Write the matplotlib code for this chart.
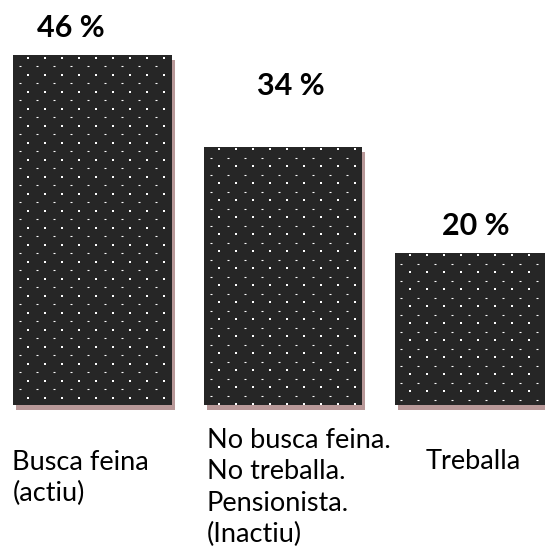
import matplotlib
matplotlib.use('Agg')
import numpy as np
import matplotlib.pyplot as plt
import matplotlib.patheffects as pe
from matplotlib.transforms import IdentityTransform

# dades
categories = ['Busca feina\n(actiu)',
              'No busca feina.\nNo treballa.\nPensionista.\n(Inactiu)',
              'Treballa']
values = [46, 34, 20]
value_labels = ['46 %', '34 %', '20 %']

plt.rcParams['font.family'] = ['Lato', 'DejaVu Sans']

fig = plt.figure(figsize=(5.45, 5.56), dpi=100)
ax = fig.add_axes([0, 0, 1, 1])
ax.set_xlim(-0.485, 2.372)
ax.set_ylim(-19.9, 53.3)
ax.axis('off')

x = list(range(len(values)))
bars = ax.bar(x, values, width=0.83, color='#262626', linewidth=0)
for b in bars:
    b.set_path_effects([
        pe.SimplePatchShadow(offset=(2.2, -3.6), shadow_rgbFace='#b89898', alpha=1.0),
        pe.Normal(),
    ])

# trama de punts blancs (en píxels), retallada a cada barra
step = 17.0
for b in bars:
    (px0, py0), (px1, py1) = ax.transData.transform(
        [(b.get_x(), 0), (b.get_x() + b.get_width(), b.get_height())])
    xs_d = np.arange(px0 + 15, px1, step)
    xs_s = np.arange(px0 + 6.5, px1, step)
    ys_d = np.arange(py1 - 2.5, py0, -step)
    ys_s = np.arange(py1 - 11, py0, -step)
    gx, gy = np.meshgrid(xs_d, ys_d)
    ax.scatter(gx.ravel(), gy.ravel(), s=2.2, marker='s', color='white',
               linewidths=0, transform=IdentityTransform(), clip_path=b, zorder=3)
    hx, hy = np.meshgrid(xs_s, ys_s)
    ax.scatter(hx.ravel(), hy.ravel(), s=3.5, marker='_', color='white',
               linewidths=0.8, transform=IdentityTransform(), clip_path=b, zorder=3)

# etiquetes de valor
label_dx = [-0.115, 0.04, 0.01]
label_dy = [3.6, 8.0, 3.6]
for xi, v, lab, dx, dy in zip(x, values, value_labels, label_dx, label_dy):
    ax.text(xi + dx, v + dy, lab, ha='center', va='center',
            fontsize=22, fontweight='bold', color='black')

# etiquetes de categoria
cat_pos = [(-0.42, -9.6, 'left'), (0.6, -10.9, 'left'), (1.995, -7.5, 'center')]
for (cx, cy, ha), cat in zip(cat_pos, categories):
    ax.text(cx, cy, cat, ha=ha, va='center', fontsize=19.5,
            color='black', linespacing=1.32)

fig.savefig('out.png', dpi=100, facecolor='white')
